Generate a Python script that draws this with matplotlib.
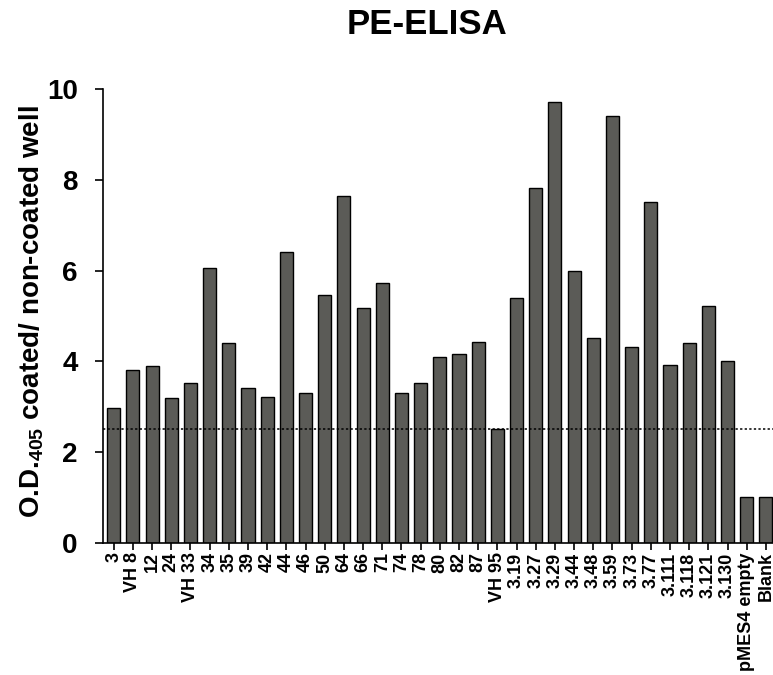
import matplotlib
matplotlib.use("Agg")
import matplotlib.pyplot as plt
from matplotlib import font_manager
import numpy as np

plt.rcParams['font.family'] = ['Liberation Sans', 'DejaVu Sans']
plt.rcParams['mathtext.fontset'] = 'custom'
plt.rcParams['mathtext.bf'] = 'Liberation Sans:bold'
plt.rcParams['mathtext.rm'] = 'Liberation Sans:bold'

# clones tested by ELISA
clones = ["3", "VH 8", "12", "24", "VH 33", "34", "35", "39", "42", "44",
          "46", "50", "64", "66", "71", "74", "78", "80", "82", "87",
          "VH 95", "3.19", "3.27", "3.29", "3.44", "3.48", "3.59", "3.73",
          "3.77", "3.111", "3.118", "3.121", "3.130", "pMES4 empty", "Blank"]

# ratio coated / non-coated well
ratio = [2.97, 3.80, 3.89, 3.19, 3.51, 6.05, 4.41, 3.41, 3.22, 6.41,
         3.31, 5.45, 7.65, 5.18, 5.72, 3.31, 3.51, 4.10, 4.16, 4.43,
         2.50, 5.40, 7.81, 9.71, 6.00, 4.51, 9.41, 4.31,
         7.50, 3.91, 4.41, 5.21, 4.00, 1.01, 1.01]

cutoff = 2.5

# narrow face for the crowded clone names, if available
names = {f.name for f in font_manager.fontManager.ttflist}
tick_family = 'Liberation Sans Narrow' if 'Liberation Sans Narrow' in names else 'Liberation Sans'

fig = plt.figure(figsize=(7.73, 6.75), dpi=100)
ax = fig.add_axes([0.133, 0.196, 0.867, 0.672])

x = np.arange(len(clones))
ax.bar(x, ratio, width=0.68, color="#5b5b57", edgecolor="black", linewidth=1.0, zorder=2)
ax.axhline(cutoff, color="black", linestyle=(0, (1.5, 1.5)), linewidth=1.1, zorder=3)

ax.set_xlim(-0.57, len(clones) - 1 + 0.37)
ax.set_ylim(0, 10)
ax.set_yticks([0, 2, 4, 6, 8, 10])
ax.set_xticks(x)
ax.set_xticklabels(clones, rotation=90, fontsize=13, fontweight="bold",
                   family=tick_family)
for lab in ax.get_yticklabels():
    lab.set_fontsize(20)
    lab.set_fontweight("bold")

ax.spines['top'].set_visible(False)
ax.spines['right'].set_visible(False)
ax.spines['left'].set_linewidth(1.2)
ax.spines['bottom'].set_linewidth(1.2)
ax.tick_params(axis='y', direction='out', length=6, width=1.2, pad=12)
ax.tick_params(axis='x', direction='out', length=5, width=1.2, pad=2)

ax.set_ylabel(r"O.D.$_{\mathbf{405}}$ coated/ non-coated well", fontsize=20,
              fontweight="bold")
ax.yaxis.set_label_coords(-0.085, 0.51)
fig.text(0.552, 0.964, "PE-ELISA", ha="center", va="center", fontsize=25,
         fontweight="bold")

fig.savefig("out.png", dpi=100)
